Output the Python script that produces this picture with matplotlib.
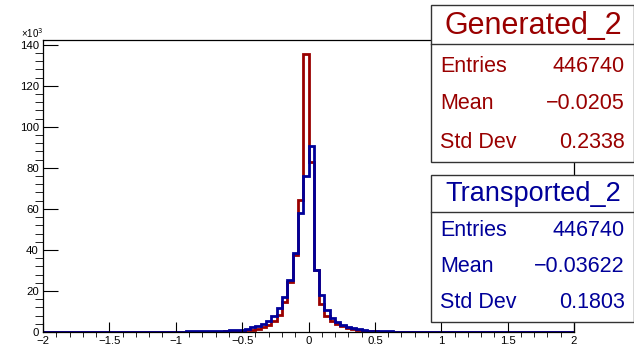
import numpy as np
import matplotlib
matplotlib.use("Agg")
import matplotlib.pyplot as plt
from matplotlib.patches import Rectangle
from matplotlib.lines import Line2D
from matplotlib.ticker import MultipleLocator, FuncFormatter

plt.rcParams['font.family'] = ['Liberation Sans', 'DejaVu Sans']

# 100 bins from -2 to 2, counts in units of 10^3
bin_lo, bin_hi, n_bins = -2.0, 2.0, 100

generated = [
    0, 0, 0, 0, 0, 0, 0, 0, 0, 0,
    0, 0, 0, 0, 0, 0, 0, 0, 0, 0,
    0, 0, 0, 0, 0, 0, 0, 0, 0, 0,
    0, 0, 0, 0.2, 0.3, 0.4, 0.5, 0.6, 0.8, 1.0,
    1.4, 2.3, 3.5, 5.5, 8.3, 14.5, 24.5, 37.5, 64.2, 135.5,
    83.0, 30.2, 13.5, 8.0, 5.3, 3.8, 2.7, 1.9, 1.3, 0.9,
    0.6, 0.4, 0.3, 0.2, 0.1, 0, 0, 0, 0, 0,
    0, 0, 0, 0, 0, 0, 0, 0, 0, 0,
    0, 0, 0, 0, 0, 0, 0, 0, 0, 0,
    0, 0, 0, 0, 0, 0, 0, 0, 0, 0,
]

transported = [
    0, 0, 0, 0, 0, 0, 0, 0, 0, 0,
    0, 0, 0, 0, 0, 0, 0, 0, 0, 0,
    0, 0, 0, 0, 0, 0, 0.2, 0.3, 0.3, 0.4,
    0.4, 0.5, 0.5, 0.6, 0.7, 0.8, 1.0, 1.2, 1.6, 2.2,
    3.0, 4.0, 5.5, 8.0, 11.5, 17.0, 25.5, 38.5, 58.0, 76.0,
    90.5, 30.0, 18.0, 10.5, 7.0, 5.0, 3.5, 2.4, 1.8, 1.3,
    0.9, 0.7, 0.5, 0.4, 0.3, 0.3, 0.2, 0.2, 0.1, 0,
    0, 0, 0, 0, 0, 0, 0, 0, 0, 0,
    0, 0, 0, 0, 0, 0, 0, 0, 0, 0,
    0, 0, 0, 0, 0, 0, 0, 0, 0, 0,
]

gen_stats = [("Entries", "446740"), ("Mean", "\u22120.0205"), ("Std Dev", "0.2338")]
tra_stats = [("Entries", "446740"), ("Mean", "\u22120.03622"), ("Std Dev", "0.1803")]

red = '#990000'
blue = '#000099'

W, H = 634, 347
fig = plt.figure(figsize=(W / 100, H / 100), dpi=100)


def fx(px):
    return px / W


def fy(py):
    return 1 - py / H


ax = fig.add_axes([fx(43), fy(332), fx(574) - fx(43), fy(40) - fy(332)])
edges = np.linspace(bin_lo, bin_hi, n_bins + 1)
ax.stairs(generated, edges, color=red, lw=2.0, baseline=None)
ax.stairs(transported, edges, color=blue, lw=2.0, baseline=None)

ax.set_xlim(bin_lo, bin_hi)
ax.set_ylim(0, 142.3)
ax.xaxis.set_major_locator(MultipleLocator(0.5))
ax.xaxis.set_minor_locator(MultipleLocator(0.1))
ax.yaxis.set_major_locator(MultipleLocator(20))
ax.yaxis.set_minor_locator(MultipleLocator(4))
ax.xaxis.set_major_formatter(FuncFormatter(lambda v, p: f"{v:g}".replace("-", "\u2212")))
ax.tick_params(direction='in', labelsize=8.2, width=0.8, color='black')
ax.tick_params(axis='y', which='major', length=11, pad=3)
ax.tick_params(axis='y', which='minor', length=5.5)
ax.tick_params(axis='x', which='major', length=7, pad=3)
ax.tick_params(axis='x', which='minor', length=3.5)
for s in ax.spines.values():
    s.set_linewidth(0.9)
fig.text(fx(21), fy(33), "\u00d710$^{3}$", fontsize=7.0, ha='left', va='center')


def stats_box(top, sep, bottom, title, title_size, rows, row_y, color):
    left, right = 431, 634
    fig.add_artist(Rectangle((fx(left), fy(bottom)), fx(right) - fx(left), fy(top) - fy(bottom),
                             transform=fig.transFigure, facecolor='white', edgecolor='#333333',
                             lw=1.0, zorder=5))
    fig.add_artist(Line2D([fx(left), fx(right)], [fy(sep), fy(sep)], transform=fig.transFigure,
                          color='#333333', lw=1.0, zorder=6))
    fig.text(fx(533), fy((top + sep) / 2 + 1), title, fontsize=title_size, color=color,
             ha='center', va='center', zorder=7)
    for (name, val), y in zip(rows, row_y):
        fig.text(fx(440), fy(y), name, fontsize=15.5, color=color, ha='left', va='center', zorder=7)
        fig.text(fx(625), fy(y), val, fontsize=15.5, color=color, ha='right', va='center', zorder=7)


stats_box(5, 44, 162, "Generated_2", 22, gen_stats, [66, 104, 143], red)
stats_box(175, 212, 322, "Transported_2", 19.5, tra_stats, [230, 267, 302], blue)

fig.savefig("out.png", dpi=100)
